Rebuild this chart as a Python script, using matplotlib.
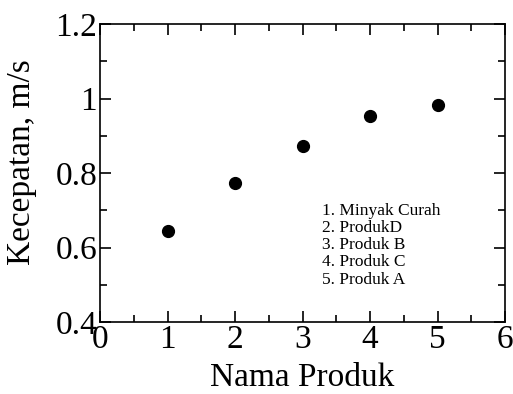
import matplotlib
matplotlib.use("Agg")
import matplotlib.pyplot as plt

produk = [1, 2, 3, 4, 5]
kecepatan = [0.644, 0.773, 0.872, 0.952, 0.983]
keterangan = ["1. Minyak Curah", "2. ProdukD", "3. Produk B", "4. Produk C", "5. Produk A"]

plt.rcParams['font.family'] = ['Liberation Serif', 'DejaVu Serif']

fig = plt.figure(figsize=(5.13, 3.94), dpi=100)
ax = fig.add_axes([100 / 513, 1 - 322 / 394, 405 / 513, 298 / 394])

ax.plot(produk, kecepatan, 'o', color='black', markersize=8.5)

ax.set_xlim(0, 6)
ax.set_ylim(0.4, 1.2)
ax.set_xticks([0, 1, 2, 3, 4, 5, 6])
ax.set_xticks([0.5, 1.5, 2.5, 3.5, 4.5, 5.5], minor=True)
ax.set_yticks([0.4, 0.6, 0.8, 1.0, 1.2])
ax.set_yticklabels(["0.4", "0.6", "0.8", "1", "1.2"])
ax.set_yticks([0.5, 0.7, 0.9, 1.1], minor=True)
ax.tick_params(which='both', direction='in', top=True, right=True, labelsize=24, pad=2)
ax.tick_params(which='major', length=8, width=1.2)
ax.tick_params(which='minor', length=5, width=1.2)
for s in ax.spines.values():
    s.set_linewidth(1.2)

ax.set_xlabel("Nama Produk", fontsize=24, labelpad=5)
ax.set_ylabel("Kecepatan, m/s", fontsize=24)
ax.yaxis.set_label_coords(-0.155, 0.537)

ax.text(3.29, 0.72, "\n".join(keterangan), fontsize=12.5, va='top', ha='left', linespacing=1.1)

fig.savefig("out.png", dpi=100)
